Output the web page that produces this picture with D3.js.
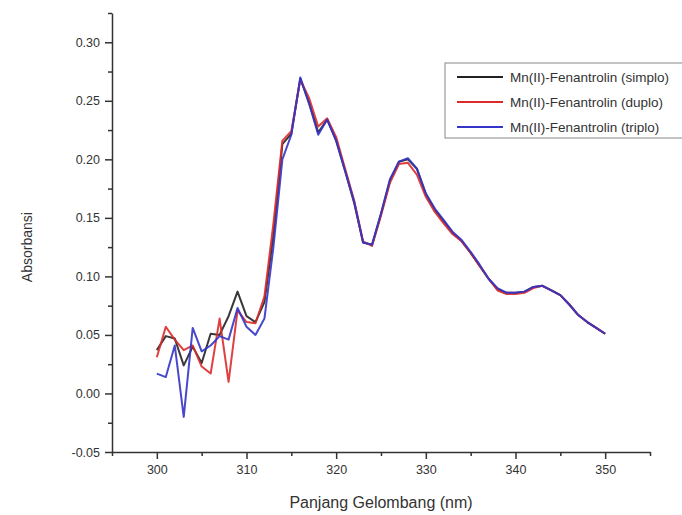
<!DOCTYPE html>
<html>
<head>
<meta charset="utf-8">
<script src="https://cdn.jsdelivr.net/npm/d3@7"></script>
<style>
  html, body { margin: 0; padding: 0; background: #fff; }
  svg { display: block; font-family: "Liberation Sans", Arial, sans-serif; }
</style>
</head>
<body>
<div id="chart"></div>
<script>
// wavelength (nm)
const wavelengths = d3.range(300, 351);

const simplo = [
  0.037, 0.049, 0.047, 0.024, 0.040, 0.026, 0.051, 0.050, 0.066, 0.087,
  0.066, 0.061, 0.078, 0.135, 0.213, 0.222, 0.269, 0.248, 0.223, 0.234,
  0.216, 0.190, 0.163, 0.129, 0.127, 0.153, 0.182, 0.198, 0.200, 0.192,
  0.170, 0.157, 0.147, 0.137, 0.130, 0.120, 0.109, 0.098, 0.089, 0.086,
  0.086, 0.087, 0.091, 0.092, 0.088, 0.084, 0.076, 0.067, 0.061, 0.056,
  0.051
];
const duplo = [
  0.031, 0.057, 0.046, 0.037, 0.041, 0.023, 0.017, 0.064, 0.010, 0.071,
  0.061, 0.060, 0.083, 0.145, 0.216, 0.224, 0.268, 0.252, 0.228, 0.235,
  0.219, 0.192, 0.165, 0.130, 0.126, 0.152, 0.180, 0.196, 0.197, 0.187,
  0.168, 0.155, 0.145, 0.136, 0.130, 0.120, 0.109, 0.098, 0.088, 0.085,
  0.085, 0.086, 0.090, 0.092, 0.088, 0.084, 0.076, 0.067, 0.061, 0.056,
  0.051
];
const triplo = [
  0.017, 0.014, 0.041, -0.020, 0.056, 0.036, 0.041, 0.049, 0.046, 0.073,
  0.057, 0.050, 0.064, 0.125, 0.200, 0.221, 0.270, 0.247, 0.221, 0.234,
  0.216, 0.190, 0.164, 0.129, 0.127, 0.154, 0.183, 0.198, 0.201, 0.192,
  0.171, 0.158, 0.148, 0.138, 0.131, 0.121, 0.110, 0.098, 0.090, 0.086,
  0.086, 0.087, 0.091, 0.092, 0.088, 0.084, 0.076, 0.067, 0.061, 0.056,
  0.051
];

const seriesNames = [
  'Mn(II)-Fenantrolin (simplo)',
  'Mn(II)-Fenantrolin (duplo)',
  'Mn(II)-Fenantrolin (triplo)'
];
const seriesColors = ['#222222', '#dd2a2a', '#3434c8'];

const xTicks = [300, 310, 320, 330, 340, 350];
const yTicks = [-0.05, 0.00, 0.05, 0.10, 0.15, 0.20, 0.25, 0.30];

const W = 682, H = 515;
const margin = { top: 13, right: 32, bottom: 63, left: 112 };

const svg = d3.select('#chart').append('svg')
  .attr('width', W).attr('height', H);

const x = d3.scaleLinear().domain([295, 355]).range([margin.left, W - margin.right]);
const y = d3.scaleLinear().domain([-0.05, 0.325]).range([H - margin.bottom, margin.top]);

const axisColor = '#333';

// minor ticks first
svg.append('g')
  .attr('transform', `translate(0,${H - margin.bottom})`)
  .call(d3.axisBottom(x).tickValues(d3.range(295, 356, 10)).tickSize(4).tickFormat(''))
  .call(g => g.select('.domain').remove())
  .call(g => g.selectAll('line').attr('stroke', axisColor).attr('stroke-width', 1.5));

svg.append('g')
  .attr('transform', `translate(${margin.left},0)`)
  .call(d3.axisLeft(y).tickValues(d3.range(-0.025, 0.33, 0.05)).tickSize(4).tickFormat(''))
  .call(g => g.select('.domain').remove())
  .call(g => g.selectAll('line').attr('stroke', axisColor).attr('stroke-width', 1.5));

// major axes
const gx = svg.append('g')
  .attr('transform', `translate(0,${H - margin.bottom})`)
  .call(d3.axisBottom(x).tickValues(xTicks).tickSize(7).tickSizeOuter(0).tickPadding(6));
gx.select('.domain').attr('stroke', axisColor).attr('stroke-width', 1.5);
gx.selectAll('line').attr('stroke', axisColor).attr('stroke-width', 1.5);
gx.selectAll('text').attr('font-size', 12.5).attr('fill', '#333')
  .attr('font-family', '"Liberation Sans", Arial, sans-serif');

const gy = svg.append('g')
  .attr('transform', `translate(${margin.left},0)`)
  .call(d3.axisLeft(y).tickValues(yTicks).tickSize(7).tickSizeOuter(0).tickPadding(5)
    .tickFormat(d3.format('.2f')));
gy.select('.domain').attr('stroke', axisColor).attr('stroke-width', 1.5);
gy.selectAll('line').attr('stroke', axisColor).attr('stroke-width', 1.5);
gy.selectAll('text').attr('font-size', 12.5).attr('fill', '#333')
  .attr('font-family', '"Liberation Sans", Arial, sans-serif')
  .text(d => d3.format('.2f')(d).replace('−', '-'));

// axis titles
svg.append('text')
  .attr('x', (margin.left + W - margin.right) / 2)
  .attr('y', 508)
  .attr('text-anchor', 'middle')
  .attr('font-size', 16)
  .attr('fill', '#333')
  .text('Panjang Gelombang (nm)');

svg.append('text')
  .attr('transform', `translate(32,${y(0.125)}) rotate(-90)`)
  .attr('text-anchor', 'middle')
  .attr('font-size', 14)
  .attr('fill', '#333')
  .text('Absorbansi');

// lines
const data = [simplo, duplo, triplo].map((vals, i) => ({
  name: seriesNames[i],
  color: seriesColors[i],
  values: wavelengths.map((w, j) => ({ w, v: vals[j] }))
}));

const line = d3.line().x(d => x(d.w)).y(d => y(d.v));

svg.append('g').selectAll('path').data(data).join('path')
  .attr('fill', 'none')
  .attr('stroke', d => d.color)
  .attr('stroke-width', 2)
  .attr('stroke-linejoin', 'round')
  .attr('opacity', 0.9)
  .attr('d', d => line(d.values));

// legend
const lg = svg.append('g').attr('transform', 'translate(445,63)');
lg.append('rect')
  .attr('width', 245).attr('height', 75)
  .attr('fill', '#fff').attr('stroke', '#888').attr('stroke-width', 1);
const items = lg.selectAll('g.item').data(data).join('g')
  .attr('class', 'item')
  .attr('transform', (d, i) => `translate(0,${14 + i * 25})`);
items.append('line')
  .attr('x1', 12).attr('x2', 58)
  .attr('stroke', d => d.color).attr('stroke-width', 2);
items.append('text')
  .attr('x', 65).attr('dy', '0.35em')
  .attr('font-size', 13.5)
  .attr('fill', '#333')
  .text(d => d.name);
</script>
</body>
</html>
